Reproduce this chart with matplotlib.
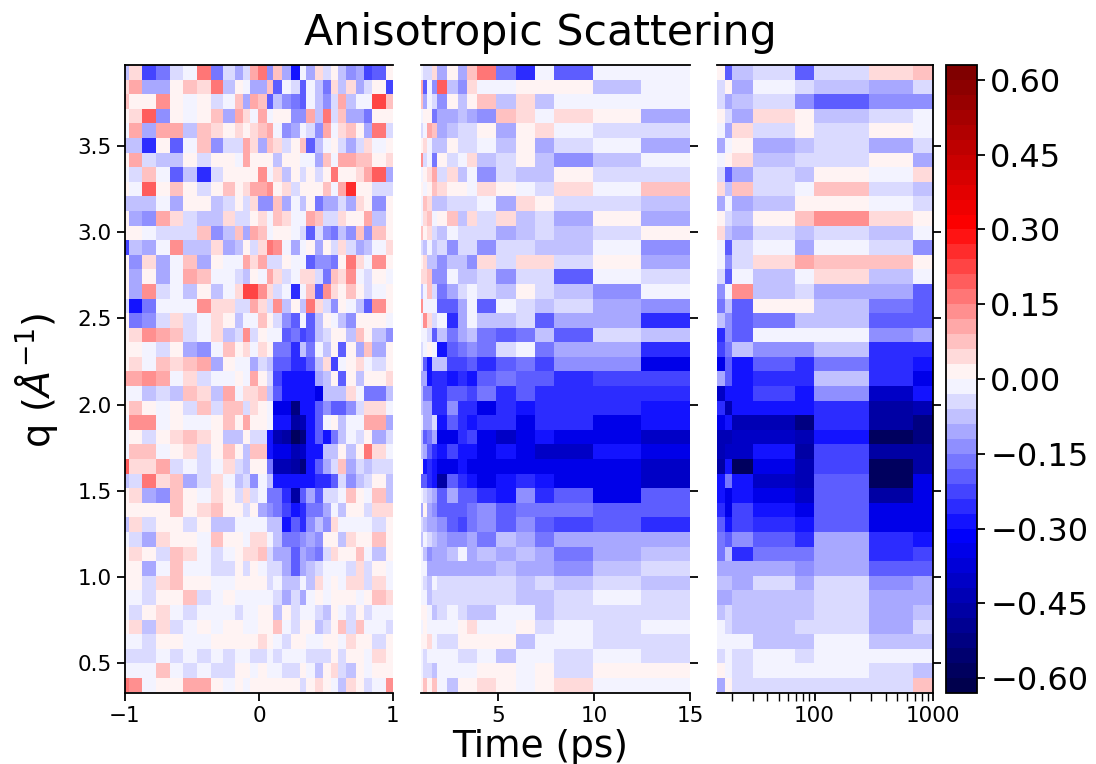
import numpy as np
import matplotlib
matplotlib.use('Agg')
import matplotlib.pyplot as plt
from matplotlib.ticker import NullFormatter, FuncFormatter

# INGRESO
# bordes de las celdas
q_bordes = [3.97,3.885,3.80,3.716,3.631,3.546,3.462,3.377,3.292,3.208,3.123,
            3.038,2.954,2.869,2.784,2.70,2.615,2.53,2.446,2.361,2.276,2.192,
            2.107,2.022,1.938,1.853,1.768,1.684,1.599,1.514,1.43,1.345,1.26,
            1.176,1.091,1.006,.922,.837,.752,.668,.583,.498,.414,.329]
t_izq = [-1,-.97,-.871,-.769,-.665,-.565,-.466,-.361,-.272,-.18,-.118,-.068,
         -.006,.056,.106,.173,.237,.304,.349,.416,.478,.54,.59,.652,.722,.781,
         .846,.945,1]
t_med = [1,1.115,1.32,1.585,1.85,2.37,2.91,3.38,3.9,4.88,5.94,6.92,7.91,9.95,
         12.46,15]
t_der = [15,17.5,20,30,68,98,290,680,1000]

# lectura de cada celda en pasos de color, fila superior primero
izq = [
 [-3,2,-9,-6,-2,-1,6,-6,-2,-4,-2,4,6,-5,3,-4,-14,-1,-4,2,-2,1,-3,-5,-4,-9,-7,1],
 [2,4,-4,-4,1,3,2,6,-3,1,-1,-4,-4,3,-7,-1,-2,-7,-1,-3,-6,2,-3,2,-4,-2,1,-9],
 [3,1,1,5,1,-1,1,-2,-1,3,-4,4,3,-8,-3,-5,-6,-7,-1,-3,-5,-2,4,-3,-1,-1,8,3],
 [1,2,7,-5,1,-1,1,3,-4,4,2,-1,4,-1,1,1,-5,-5,4,-3,6,-2,3,-4,-4,-6,1,1],
 [-1,4,-4,4,4,-3,3,2,1,2,1,2,3,4,-1,-5,-4,-1,-2,-5,4,-1,2,3,1,-4,6,-2],
 [-3,-3,-10,1,-7,-1,3,-5,-2,-2,4,2,-4,3,2,-2,1,3,-7,-3,-1,1,-2,-4,-2,2,-1,1],
 [1,4,-2,-3,-3,1,-2,1,1,-1,4,1,1,1,-3,1,1,-1,-1,-4,3,-1,4,4,3,3,1,2],
 [-1,-2,3,-1,-8,-3,-11,-2,1,1,1,1,5,-1,2,-3,1,-2,1,-2,1,6,1,1,2,4,7,-4],
 [1,-1,7,1,3,1,-2,1,3,1,2,4,4,5,1,2,-2,1,1,1,3,-1,4,10,1,1,-2,-2],
 [-3,-3,-3,-1,-4,1,1,-3,-2,1,-2,2,-5,-5,3,-4,-1,-3,1,-6,-4,-4,-2,-4,2,1,-5,1],
 [1,-4,-5,4,2,-2,-3,-3,2,-2,-2,1,2,-1,3,2,-1,-1,4,3,-2,-2,2,1,1,4,-3,1],
 [1,1,-1,-2,-2,-2,3,-5,-3,3,-4,4,3,-1,1,1,-1,-2,-7,-2,-5,-6,-3,-5,3,-5,3,1],
 [-9,-3,-4,-1,5,-3,-3,2,-4,-3,1,-2,2,6,5,-1,-4,-1,1,-4,1,-2,2,-2,-4,-3,-1,2],
 [1,-5,2,-4,-1,3,-4,1,-1,-1,4,2,4,-2,-2,1,-1,-1,-7,-5,-5,-6,1,6,2,-1,5,1],
 [1,-4,1,-4,-1,4,3,-1,-1,-2,-3,1,-1,4,2,-2,-1,2,2,-2,-6,3,2,5,-1,-2,1,-1],
 [1,-4,5,-2,-1,-3,1,-3,-1,2,8,8,5,2,-2,-1,-10,-1,3,-7,5,2,1,3,1,-2,-1,1],
 [-2,-12,-6,-1,-1,-1,5,2,2,-2,-2,4,2,-2,5,-3,1,-3,6,2,-2,-5,1,-1,-3,-8,5,1],
 [1,-6,-5,-2,2,-2,-1,2,1,-3,-1,-1,3,1,-2,-5,-7,-1,-8,-3,1,-1,-3,-5,1,1,1,-1],
 [1,2,5,4,3,-2,-1,2,-3,-2,5,-2,1,-1,-1,-8,-6,-9,-7,-3,-2,1,1,-3,3,1,-3,-5],
 [1,1,-1,-2,1,-4,-5,-1,3,1,2,-1,2,1,-6,-6,-11,-3,-6,-1,-3,1,-8,1,-4,3,-4,1],
 [1,2,-1,3,2,3,4,-4,1,-1,-1,-4,-2,-3,-7,-8,-11,-10,-8,-3,2,-9,-1,1,2,-1,-2,1],
 [4,4,5,4,-1,2,-2,-1,-1,1,-1,4,1,-2,-9,-12,-12,-12,-12,-4,-3,1,-7,1,-3,1,1,2],
 [-1,-1,-3,-2,-3,3,2,-3,4,-1,2,2,3,-3,-8,-14,-13,-13,-14,-15,-3,-3,-3,2,-1,-6,-6,-3],
 [1,3,1,-1,1,-2,3,-2,3,3,-2,2,1,-1,-15,-15,-19,-12,-14,-7,-5,-8,-7,-5,-2,2,2,-1],
 [-1,5,5,-1,1,-1,-1,1,3,1,4,1,1,-1,-12,-14,-18,-17,-12,-8,-1,1,-3,-1,-1,4,4,-4],
 [-1,1,-2,1,2,3,2,1,-3,-3,1,-2,-2,-13,-17,-18,-20,-19,-14,-8,-14,-6,-3,-1,-2,1,-4,-2],
 [-1,3,3,-1,1,2,-2,1,3,1,-3,3,3,-13,-15,-15,-17,-16,-14,-13,-3,-3,1,-3,1,6,2,-1],
 [7,2,2,4,-2,-1,-2,-1,2,-2,-3,1,1,-6,-17,-17,-18,-19,-13,-8,-4,-2,3,-4,-2,-3,-2,-2],
 [-3,-2,6,2,3,-4,-2,2,-1,-3,-2,-5,-1,-3,-14,-14,-12,-14,-14,-10,-10,-7,-2,-5,-3,-2,1,-3],
 [1,2,-4,-5,3,1,-1,2,1,-2,2,-2,-1,-6,-6,-11,-18,-7,-4,-7,-2,-2,-1,3,1,-1,3,-3],
 [1,1,1,1,3,1,2,3,1,1,-2,1,-4,-5,-6,-9,-14,-11,-6,-6,-4,-1,-3,1,1,-2,2,2],
 [-3,2,-2,1,1,-2,1,-3,-3,-1,-1,-1,-1,-3,-3,-12,-8,-10,-5,-3,-5,2,-1,-1,-1,-1,-2,1],
 [-1,-2,-4,2,1,1,-1,3,1,1,-1,2,2,-1,-3,-6,-6,-5,-4,-5,1,1,-3,2,1,1,3,1],
 [1,2,1,-2,3,2,-1,-2,-1,1,2,2,3,-2,-4,-4,-8,-4,-5,-6,-2,2,1,1,3,-1,-3,1],
 [1,1,-4,-1,3,-1,-1,-2,-2,1,-2,1,-1,-2,-2,-4,-8,-4,-3,-2,-1,-1,-1,-2,2,-2,1,-1],
 [1,1,-2,2,3,1,1,-1,-1,1,1,1,1,-2,-1,-3,-3,-1,-3,2,-1,1,-1,2,2,-2,2,-1],
 [-1,-1,-2,1,1,3,-2,-1,1,-1,-1,-1,-1,-1,-2,-4,-2,-4,-1,1,-1,1,1,1,-1,1,3,2],
 [-1,-2,1,2,-1,-2,-1,-1,-1,-2,-1,-1,1,1,-3,1,-2,-1,-1,-2,-3,1,-1,-2,1,-2,-1,-1],
 [1,2,-3,2,-2,-1,1,-1,1,1,-1,-1,1,1,3,-1,-2,1,1,-3,-2,1,3,-2,3,-1,-1,-2],
 [-1,-1,-2,1,1,-1,-1,1,1,1,1,1,2,1,-1,-2,1,1,-1,-1,1,1,-1,2,1,1,-2,1],
 [-2,-2,-2,-1,-2,-1,-2,-1,-2,-1,-1,-2,-2,-1,-2,-1,-1,-1,-2,-2,-2,1,-2,1,1,-1,2,1],
 [-1,-1,-1,3,-1,-2,-1,-2,-2,1,1,-1,1,-1,-1,-2,-2,1,-1,-3,1,2,-2,-3,1,-1,1,1],
 [6,5,-1,1,1,4,4,1,-1,1,-1,1,1,1,1,1,1,-2,1,2,1,-1,-3,2,1,-2,-1,5],
]
med = [
 [-1,-2,-2,2,-4,1,-4,3,6,-6,-10,-1,-7,-1,-1],
 [4,-8,-1,-5,7,-3,-5,2,-1,-1,1,1,1,-3,-1],
 [3,-4,-1,-2,-5,1,-3,1,3,-3,2,-3,-1,-1,-1],
 [-1,1,1,-6,-4,-4,-3,-4,-5,3,2,-1,2,1,-4],
 [-2,-1,4,3,-4,-3,-2,-2,1,-4,1,2,-1,-2,-2],
 [1,2,-1,-3,-3,1,-2,-2,-1,-3,1,-4,-2,-1,-4],
 [5,-2,-1,-6,1,-2,-1,2,-3,-2,1,-3,-5,-3,-1],
 [-1,1,2,4,-2,2,-3,-1,-5,-2,-3,-3,1,-2,-2],
 [1,-1,1,3,2,1,1,-1,2,1,-1,-2,2,-1,3],
 [-1,3,2,-3,-3,-2,-2,-2,-1,-4,2,1,-2,-2,-3],
 [-1,2,3,-1,1,3,-3,2,-2,2,-3,-2,-4,1,-4],
 [3,1,2,-2,-3,-1,-2,-2,-2,-4,-3,-2,-3,-2,1],
 [-2,-3,-1,-3,-2,-5,-2,-2,-5,-2,-2,-3,-3,-1,-5],
 [1,2,-3,-3,-5,-3,-3,-5,2,-2,2,2,-2,1,-4],
 [2,2,3,-5,-5,-1,-3,-3,-2,-5,-2,-2,-7,-1,-2],
 [-3,-1,3,-2,-6,-4,-2,-1,-2,-3,1,-2,-3,-5,-1],
 [5,-1,-1,-1,-8,-8,-4,-1,-7,-1,-2,-3,-2,-4,-5],
 [-1,5,2,-2,-1,-10,-4,-1,-3,-3,-2,-7,-4,-4,-10],
 [-1,-1,-2,-7,-3,-6,-4,-3,-6,-7,-6,-3,-7,-2,-3],
 [-2,-1,1,-1,-14,-8,-6,-5,-6,-2,-1,-6,-4,-4,-10],
 [-2,-7,-12,-3,-3,-9,-9,-8,-11,-7,-6,-9,-5,-5,-15],
 [-4,-4,-13,-10,-11,-12,-11,-14,-7,-6,-8,-8,-11,-9,-9],
 [-3,-6,-6,-11,-11,-8,-8,-9,-6,-10,-8,-10,-11,-11,-11],
 [-3,-4,-4,-10,-10,-5,-11,-11,-15,-11,-14,-11,-11,-11,-13],
 [-1,-4,-4,-2,-13,-8,-11,-12,-10,-10,-15,-11,-11,-15,-14],
 [-3,-8,-6,-4,-15,-15,-11,-9,-15,-16,-15,-14,-15,-15,-16],
 [-3,-4,-8,-11,-13,-9,-12,-12,-15,-12,-15,-16,-16,-12,-15],
 [1,-14,-10,-14,-15,-15,-12,-15,-15,-15,-15,-15,-15,-15,-16],
 [-7,-7,-11,-13,-18,-7,-11,-13,-15,-12,-10,-14,-15,-15,-16],
 [-1,-2,-3,-4,-7,-4,-8,-8,-10,-12,-5,-10,-8,-15,-7],
 [-4,1,-4,-5,-7,-8,-8,-6,-5,-8,-6,-6,-6,-8,-8],
 [-2,-3,-4,-4,-5,-7,-9,-6,-5,-7,-5,-7,-9,-7,-10],
 [-3,-1,-2,-3,-4,-5,-5,-4,-6,-3,-4,-6,-4,-4,-4],
 [-1,-3,-5,-4,-4,-3,-1,-4,-3,-4,-3,-4,-6,-4,-3],
 [-1,-1,-4,-4,-4,-4,-4,-4,-4,-3,-4,-4,-5,-3,-2],
 [-1,-2,-3,-1,-2,-2,-2,-2,-2,-2,-3,-2,-3,-2,-3],
 [-1,-1,-3,-2,-2,-2,-2,-2,-2,-2,-3,-3,-2,-1,-2],
 [1,1,-1,-3,-2,-1,-2,-3,-3,-1,-1,-3,-2,-2,-2],
 [-1,1,-1,-1,-1,-1,1,2,-1,-1,1,-2,-1,-2,-1],
 [1,1,2,-1,-2,-2,1,1,1,1,-3,-1,-1,-2,-2],
 [-1,-2,-1,-1,-1,-1,-2,-2,-1,-3,-1,-1,-2,-1,-2],
 [-1,-2,-2,-3,-1,-1,-1,-1,1,1,-1,1,-2,1,1],
 [1,3,1,3,-1,-3,1,1,2,1,-1,1,2,-1,-1],
]
der = [
 [1,-7,-3,-2,-7,-2,2,3],
 [-2,1,-4,-1,-2,-3,-4,-2],
 [-2,-4,-3,-2,-5,-8,-5,-5],
 [1,-2,-4,2,1,-3,-2,-1],
 [-1,-4,2,-2,1,-2,1,-1],
 [-4,-1,1,-4,-3,-2,-4,-2],
 [-1,1,2,-3,-2,-2,1,-4],
 [-2,-8,-4,-2,-3,1,-1,2],
 [2,-3,3,-2,-1,3,-2,-3],
 [-4,-1,-4,-3,1,1,-1,-2],
 [1,-2,-3,1,3,5,2,1],
 [2,-3,-4,-2,-3,-2,-3,-1],
 [-1,-8,-2,-1,-4,-1,-2,-5],
 [-1,-5,-2,2,4,3,3,1],
 [-2,-8,-1,-3,-1,2,-3,-1],
 [-5,-1,5,-3,-2,-4,-4,-7],
 [-6,-3,-8,1,1,-3,-6,-7],
 [-3,-5,-8,-6,-3,-3,-8,-7],
 [-11,-5,-8,-1,-1,-1,-5,-4],
 [-9,-6,-3,-5,-5,-3,-11,-11],
 [-15,-7,-14,-8,-10,-6,-11,-14],
 [-4,-8,-12,-11,-11,-3,-11,-15],
 [-16,-14,-14,-9,-14,-5,-16,-14],
 [-10,-17,-13,-14,-13,-10,-18,-17],
 [-15,-14,-17,-17,-19,-10,-18,-19],
 [-17,-17,-16,-16,-17,-12,-20,-19],
 [-17,-16,-16,-14,-18,-9,-18,-18],
 [-18,-14,-20,-15,-17,-9,-20,-18],
 [-14,-6,-14,-16,-17,-7,-20,-15],
 [-13,-15,-14,-15,-16,-7,-18,-15],
 [-10,-15,-9,-13,-15,-8,-15,-15],
 [-8,-12,-9,-11,-14,-8,-15,-15],
 [-6,-7,-5,-8,-11,-4,-11,-13],
 [-6,-3,-10,-6,-6,-4,-11,-9],
 [-4,-4,-4,-4,-5,-4,-8,-8],
 [-3,-3,-4,-2,-4,-2,-5,-4],
 [-4,-4,-3,-3,-3,-2,-4,-4],
 [-3,-2,-3,-3,-3,-2,-4,-3],
 [-1,-2,-3,-3,-2,-2,-4,-2],
 [-1,-1,-1,-3,-3,-1,-3,-3],
 [-2,-1,-2,-1,-2,-1,-1,-1],
 [1,-1,-2,-1,-1,-1,-2,-3],
 [-4,1,-2,-2,-2,-2,-2,3],
]

# calibracion de los pasos de color contra la barra
paso = [0,1,2,3,4,5,6,7,8,10,12,14,15,17,18,19,20]
valor = [0,.02,.05,.08,.11,.14,.16,.19,.21,.25,.28,.30,.36,.43,.48,.53,.58]
q_ticks = [.5,1,1.5,2,2.5,3,3.5]
cbar_ticks = [-.6,-.45,-.3,-.15,0,.15,.3,.45,.6]

# PROCEDIMIENTO
def escala(filas):
    filas = np.array(filas, dtype=float)
    return np.sign(filas)*np.interp(np.abs(filas), paso, valor)

cmap = plt.get_cmap('seismic', 42)
W, H = 1096, 764

# GRAFICA
fig = plt.figure(figsize=(10.96,7.64), dpi=100)
def eje(x0, x1):
    return fig.add_axes([x0/W, 1-693/H, (x1-x0)/W, 628/H])

ax1 = eje(125,393)
ax2 = eje(421,690)
ax3 = eje(717,933)
cax = fig.add_axes([946/W, 1-693/H, 31/W, 628/H])

for ax, t, z in [(ax1,t_izq,izq), (ax2,t_med,med), (ax3,t_der,der)]:
    m = ax.pcolormesh(t, q_bordes, escala(z), cmap=cmap, vmin=-.63, vmax=.63)
    ax.set_ylim(.326, 3.97)
    ax.set_yticks(q_ticks)
    ax.tick_params(labelsize=15.5, length=6, width=1.3)
    for s in ax.spines.values():
        s.set_linewidth(1.3)

ax1.set_xlim(-1,1)
ax1.set_xticks([-1,0,1])
ax1.spines['right'].set_visible(False)

ax2.set_xlim(1,15)
ax2.set_xticks([5,10,15])
ax2.spines['left'].set_visible(False)
ax2.spines['right'].set_visible(False)
ax2.yaxis.tick_right()
ax2.tick_params(axis='y', labelright=False)

ax3.set_xscale('log')
ax3.set_xlim(15,1000)
ax3.set_xticks([100,1000])
ax3.set_xticklabels(['100','1000'])
ax3.xaxis.set_minor_formatter(NullFormatter())
ax3.tick_params(which='minor', length=5.5, width=1)
ax3.spines['left'].set_visible(False)
ax3.yaxis.tick_right()
ax3.tick_params(axis='y', labelright=False)

cb = fig.colorbar(m, cax=cax, ticks=cbar_ticks,
                  format=FuncFormatter(lambda v, p: f'{v:.2f}'.replace('-', '\u2212')))
cb.ax.tick_params(labelsize=23, length=6, width=1.3)
cb.outline.set_linewidth(1.3)

fig.text(36/W, 1-380/H, 'q ($\\AA^{-1}$)', fontsize=27.5, rotation=90, ha='center', va='center')
fig.text(540/W, 1-747/H, 'Time (ps)', fontsize=27, ha='center', va='center')
fig.text(540/W, 1-33/H, 'Anisotropic Scattering', fontsize=30.8, ha='center', va='center')

plt.savefig('out.png', dpi=100)
